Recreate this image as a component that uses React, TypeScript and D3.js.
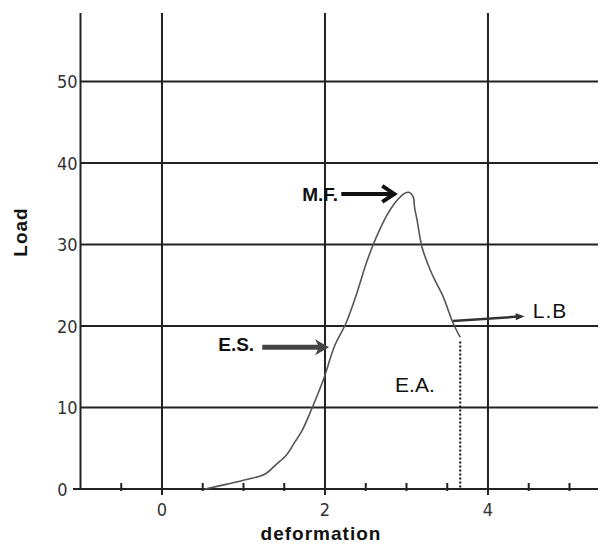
import * as d3 from "d3";

// curve
const deformation = [0.53, 0.8, 1.05, 1.26, 1.4, 1.53, 1.62, 1.72, 1.84, 1.98, 2.12, 2.26, 2.39, 2.5, 2.58, 2.68, 2.76, 2.85, 2.92, 2.98, 3.03, 3.08, 3.1, 3.13, 3.19, 3.29, 3.37, 3.45, 3.57, 3.66];
const load = [0, 0.6, 1.2, 1.8, 3.0, 4.2, 5.6, 7.2, 9.9, 13.4, 17.6, 20.4, 24, 27.5, 29.7, 32, 33.6, 35, 35.8, 36.3, 36.4, 35.9, 34.5, 33, 29.7, 26.9, 25.2, 23.6, 20.4, 18.6];

const xMajor = [0, 2, 4];
const xMinor = [-0.5, 0.5, 1, 1.5, 2.5, 3, 3.5, 4.5, 5];
const yTicks = [0, 10, 20, 30, 40, 50];

const W = 607;
const H = 544;

export default function App() {
  const x = d3.scaleLinear().domain([-1, 5.35]).range([80.5, 598]);
  const y = d3.scaleLinear().domain([0, 58.4]).range([489, 13]);

  const pts: [number, number][] = deformation.map((d, i) => [d, load[i]]);
  const line = d3.line<[number, number]>()
    .x(d => x(d[0]))
    .y(d => y(d[1]))
    .curve(d3.curveCatmullRom.alpha(0.5));

  const endX = deformation[deformation.length - 1];
  const endY = load[load.length - 1];

  const font = "Arial, 'Liberation Sans', sans-serif";
  const narrow = "'Liberation Sans Narrow', 'Arial Narrow', 'DejaVu Sans Condensed', sans-serif";

  // M.F. arrow (open chevron head)
  const mf = { x1: x(2.2), x2: x(2.85), y: y(36.2) };
  // E.S. arrow (filled head)
  const es = { x1: x(1.23), x2: x(2.05), y: y(17.4) };
  // L.B arrow (thin)
  const lb = { x1: x(3.57), y1: y(20.6), x2: x(4.45), y2: y(21.2) };
  const lbAng = Math.atan2(lb.y2 - lb.y1, lb.x2 - lb.x1);
  const hl = 9, hw = 3.5;
  const lbHead = [
    [lb.x2, lb.y2],
    [lb.x2 - hl * Math.cos(lbAng) + hw * Math.sin(lbAng), lb.y2 - hl * Math.sin(lbAng) - hw * Math.cos(lbAng)],
    [lb.x2 - hl * Math.cos(lbAng) - hw * Math.sin(lbAng), lb.y2 - hl * Math.sin(lbAng) + hw * Math.cos(lbAng)],
  ].map(p => p.join(",")).join(" ");

  return (
    <svg width={W} height={H} style={{ position: "absolute", left: 0, top: 0, background: "#fff" }}>
      {/* horizontal grid */}
      {yTicks.filter(t => t > 0).map(t => (
        <line key={"h" + t} x1={x(-1)} x2={598} y1={y(t)} y2={y(t)} stroke="#222" strokeWidth={2} />
      ))}
      {/* vertical grid */}
      {xMajor.map(t => (
        <line key={"v" + t} x1={x(t)} x2={x(t)} y1={13} y2={y(0) + 6} stroke="#222" strokeWidth={2} />
      ))}
      {/* y axis */}
      <line x1={x(-1)} x2={x(-1)} y1={13} y2={y(0)} stroke="#222" strokeWidth={2} />
      {/* x axis */}
      <line x1={73} x2={598} y1={y(0)} y2={y(0)} stroke="#222" strokeWidth={2} />
      {xMinor.map(t => (
        <line key={"m" + t} x1={x(t)} x2={x(t)} y1={y(0) - 6} y2={y(0) + 2} stroke="#222" strokeWidth={2} />
      ))}

      {/* tick labels */}
      {yTicks.map(t => (
        <text key={"yl" + t} x={x(-1) - (t === 0 ? 13 : 3)} y={y(t) + 7} textAnchor="end" fontFamily={narrow} fontSize={18} fill="#333">{t}</text>
      ))}
      {xMajor.map(t => (
        <text key={"xl" + t} x={x(t)} y={y(0) + 27} textAnchor="middle" fontFamily={narrow} fontSize={18} fill="#333">{t}</text>
      ))}

      {/* axis titles */}
      <text x={321} y={540} textAnchor="middle" fontFamily={font} fontSize={19} fontWeight="bold" letterSpacing={1} fill="#111">deformation</text>
      <text transform={`translate(27,232) rotate(-90)`} textAnchor="middle" fontFamily={font} fontSize={19} fontWeight="bold" letterSpacing={1} fill="#111">Load</text>

      {/* curve */}
      <path d={line(pts) || ""} fill="none" stroke="#555" strokeWidth={1.6} />
      {/* dotted drop */}
      <line x1={x(endX)} x2={x(endX)} y1={y(endY) + 4} y2={y(0)} stroke="#111" strokeWidth={2} strokeDasharray="2,2" />

      {/* M.F. */}
      <text x={x(1.72)} y={y(35.3)} fontFamily={font} fontSize={19} fontWeight="bold" fill="#111">M.F.</text>
      <line x1={mf.x1} x2={mf.x2 - 2} y1={mf.y} y2={mf.y} stroke="#111" strokeWidth={4} />
      <polyline points={`${mf.x2 - 12},${mf.y - 8} ${mf.x2},${mf.y} ${mf.x2 - 12},${mf.y + 8}`} fill="none" stroke="#111" strokeWidth={4} strokeLinejoin="miter" />

      {/* E.S. */}
      <text x={x(0.69)} y={y(16.9)} fontFamily={font} fontSize={19} fontWeight="bold" fill="#111">E.S.</text>
      <line x1={es.x1} x2={es.x2 - 8} y1={es.y} y2={es.y} stroke="#444" strokeWidth={5} />
      <polygon points={`${es.x2},${es.y} ${es.x2 - 14},${es.y - 8} ${es.x2 - 10},${es.y} ${es.x2 - 14},${es.y + 8}`} fill="#444" />

      {/* L.B */}
      <line x1={lb.x1} y1={lb.y1} x2={lb.x2 - 6 * Math.cos(lbAng)} y2={lb.y2 - 6 * Math.sin(lbAng)} stroke="#333" strokeWidth={2.5} />
      <polygon points={lbHead} fill="#333" />
      <text x={x(4.55)} y={y(21.0)} fontFamily={font} fontSize={21} letterSpacing={1} fill="#111">L.B</text>

      {/* E.A. */}
      <text x={x(2.86)} y={y(11.9)} fontFamily={font} fontSize={21} fill="#111">E.A.</text>
    </svg>
  );
}
